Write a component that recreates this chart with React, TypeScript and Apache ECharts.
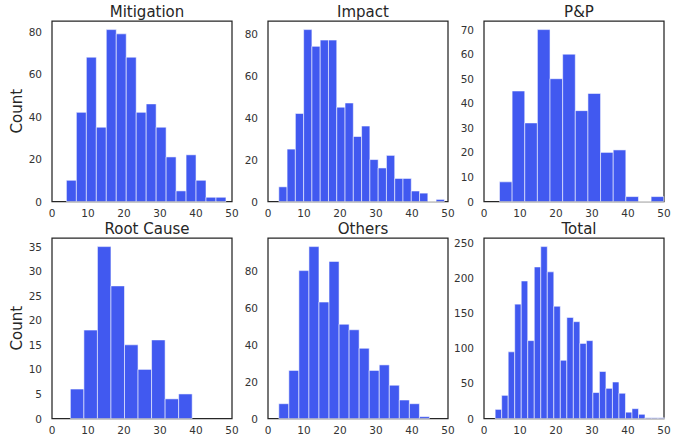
import React, { useEffect, useRef } from "react";
import * as echarts from "echarts";

// Panel titles
const titles = ["Mitigation", "Impact", "P&P", "Root Cause", "Others", "Total"];

// Histogram bin starts and widths (in x units)
const binStarts = [4.0, 3.0, 4.3, 5.1, 3.0, 3.1];
const binWidths = [2.77, 2.3, 3.51, 3.76, 2.79, 1.81];

// Counts per bin
const mitigationCounts = [10, 42, 68, 35, 81, 79, 68, 42, 46, 35, 21, 5, 22, 10, 2, 2];
const impactCounts = [7, 25, 42, 82, 74, 77, 77, 45, 47, 31, 36, 20, 16, 22, 11, 11, 5, 4, 0, 1];
const ppCounts = [8, 45, 32, 70, 50, 60, 37, 44, 20, 21, 2, 0, 2];
const rootCauseCounts = [6, 18, 35, 27, 15, 10, 16, 4, 5];
const othersCounts = [8, 26, 80, 93, 63, 85, 51, 48, 38, 26, 29, 18, 10, 8, 1];
const totalCounts = [13, 33, 95, 163, 196, 111, 216, 245, 209, 160, 83, 144, 138, 107, 111, 37, 67, 43, 52, 36, 9, 14, 6, 1, 1, 1];

const allCounts = [mitigationCounts, impactCounts, ppCounts, rootCauseCounts, othersCounts, totalCounts];

// Y tick intervals
const yIntervals = [20, 20, 10, 5, 20, 50];
// X ticks
const xTicks = [0, 10, 20, 30, 40, 50];

const TEXT = "#333333";
const FRAME = "#262626";
const FONT = "DejaVu Sans";

export default function App() {
  const ref = useRef<HTMLDivElement>(null);
  useEffect(() => {
    if (!ref.current) return;
    const chart = echarts.init(ref.current, null, { renderer: "svg" });

    const lefts = [52, 268, 484];
    const tops = [21, 238];
    const gw = 180;
    const gh = 180.5;

    const grids: any[] = [];
    const xAxes: any[] = [];
    const yAxes: any[] = [];
    const series: any[] = [];
    const titleArr: any[] = [];

    for (let i = 0; i < 6; i++) {
      const col = i % 3;
      const row = Math.floor(i / 3);
      grids.push({
        left: lefts[col],
        top: tops[row],
        width: gw,
        height: gh,
        show: true,
        borderColor: FRAME,
        borderWidth: 1.25,
        backgroundColor: "transparent",
        containLabel: false,
      });
      xAxes.push({
        type: "value",
        gridIndex: i,
        min: xTicks[0],
        max: xTicks[xTicks.length - 1],
        interval: 10,
        axisLine: { show: false },
        axisTick: { show: false },
        splitLine: { show: false },
        axisLabel: { color: TEXT, fontFamily: FONT, fontSize: 10.5, margin: 6 },
      });
      const counts = allCounts[i];
      const maxC = Math.max(...counts);
      const intv = yIntervals[i];
      yAxes.push({
        type: "value",
        gridIndex: i,
        min: 0,
        max: maxC * 1.05,
        interval: intv,
        name: col === 0 ? "Count" : "",
        nameLocation: "middle",
        nameGap: 26,
        nameTextStyle: { color: FRAME, fontFamily: FONT, fontSize: 15 },
        axisLine: { show: false },
        axisTick: { show: false },
        splitLine: { show: false },
        axisLabel: {
          color: TEXT,
          fontFamily: FONT,
          fontSize: 10.5,
          margin: 10,
          showMaxLabel: false,
          formatter: (v: number) => (Math.abs(v % intv) < 1e-9 ? String(v) : ""),
        },
      });
      const start = binStarts[i];
      const w = binWidths[i];
      const data = counts.map((c, k) => [start + k * w, start + (k + 1) * w, c]);
      series.push({
        type: "custom",
        xAxisIndex: i,
        yAxisIndex: i,
        data,
        encode: { x: [0, 1], y: 2 },
        renderItem: (params: any, api: any) => {
          const x0 = api.value(0);
          const x1 = api.value(1);
          const c = api.value(2);
          const p0 = api.coord([x0, c]);
          const p1 = api.coord([x1, 0]);
          return {
            type: "rect",
            shape: { x: p0[0], y: p0[1], width: p1[0] - p0[0], height: p1[1] - p0[1] },
            style: { fill: "#4159F0", stroke: "rgba(255,255,255,0.55)", lineWidth: 1 },
          };
        },
      });
      titleArr.push({
        text: titles[i],
        left: lefts[col] + gw / 2,
        top: tops[row] - 22,
        textAlign: "center",
        textStyle: { color: FRAME, fontFamily: FONT, fontSize: 15, fontWeight: "normal" },
      });
    }

    chart.setOption({
      animation: false,
      backgroundColor: "#ffffff",
      title: titleArr,
      grid: grids,
      xAxis: xAxes,
      yAxis: yAxes,
      series,
    });
    return () => chart.dispose();
  }, []);
  return (
    <div
      ref={ref}
      style={{ position: "fixed", left: 0, top: 0, width: 683, height: 442 }}
    />
  );
}
